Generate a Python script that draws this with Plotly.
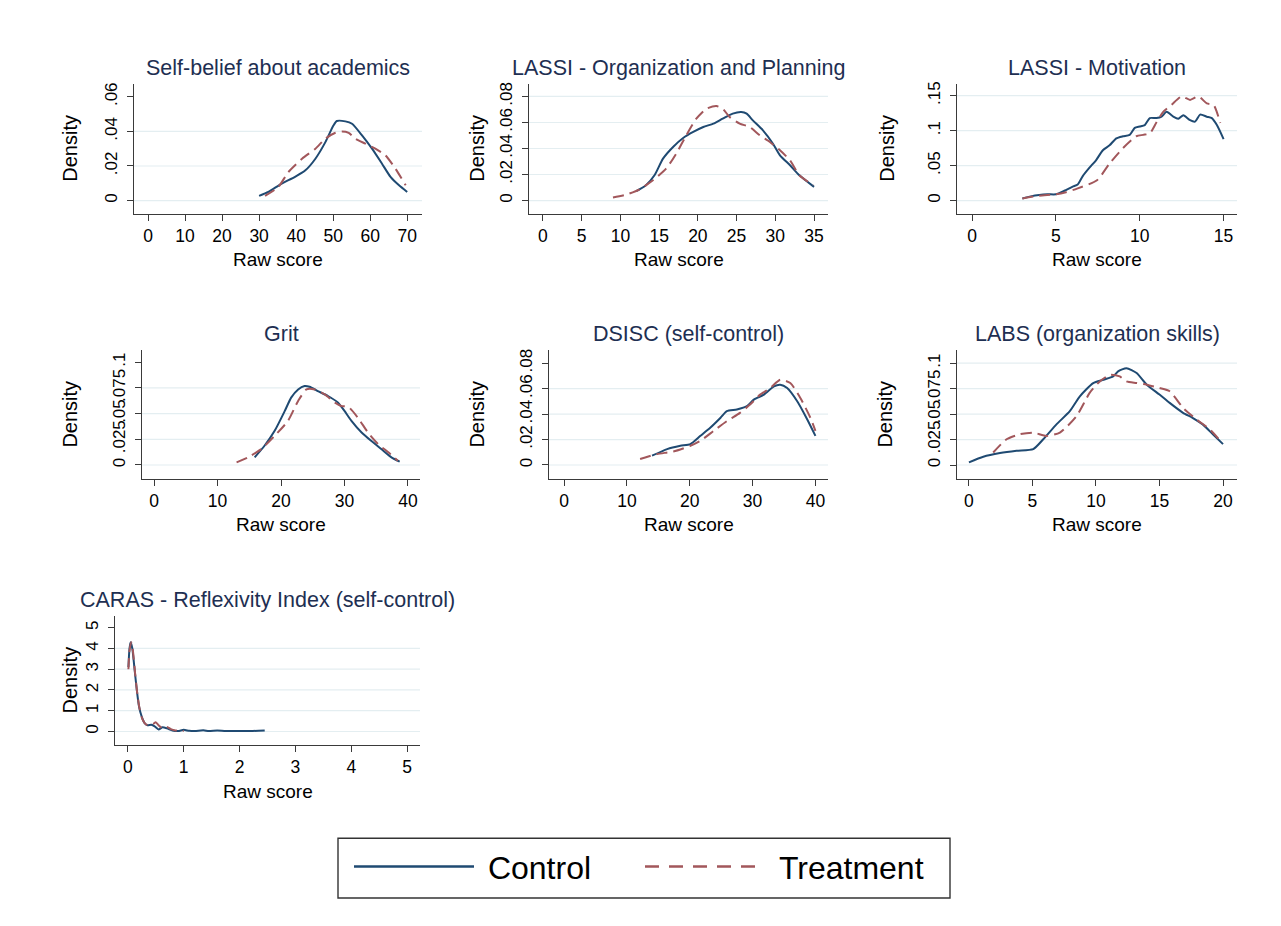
import plotly.graph_objects as go

W, H = 1281, 926
OFF = 8  # page body margin in the browser

# ---------------- data ----------------
titles = ["Self-belief about academics", "LASSI - Organization and Planning", "LASSI - Motivation",
          "Grit", "DSISC (self-control)", "LABS (organization skills)",
          "CARAS - Reflexivity Index (self-control)"]
series_names = ["Control", "Treatment"]
x_title = "Raw score"
y_title = "Density"

# 1 Self-belief about academics
sb_c_x = [30.0, 32.5, 36.1, 39.7, 42.5, 45.2, 47.9, 50.1, 51.0, 53.3, 55.1, 57.8, 60.5, 63.2, 65.5, 67.8, 70.0]
sb_c_y = [.0027, .0050, .0098, .0137, .0175, .0242, .0338, .0435, .0460, .0458, .0444, .0377, .0300, .0213, .0137, .0088, .0050]
sb_t_x = [31.6, 35.2, 37.9, 41.6, 45.2, 47.9, 50.6, 52.4, 54.2, 56.0, 58.7, 61.4, 64.1, 66.8, 69.6]
sb_t_y = [.0027, .0079, .0165, .0242, .0300, .0358, .0392, .0400, .0392, .0358, .0329, .0300, .0262, .0185, .0088]

# 2 LASSI - Organization and Planning
op_c_x = [12.05, 13.3, 14.4, 15.5, 16.8, 18.1, 19.4, 20.7, 22.0, 23.2, 24.5, 25.6, 26.3, 27.1, 28.4, 29.7, 30.6, 31.9, 33.1, 35.0]
op_c_y = [.0072, .0118, .0194, .0322, .0412, .0481, .0527, .0565, .0591, .0629, .0668, .0680, .0668, .0616, .0540, .0437, .0348, .0271, .0194, .0105]
op_t_x = [9.04, 10.8, 12.5, 14.2, 15.9, 17.2, 18.5, 19.8, 21.1, 22.4, 23.2, 24.1, 25.4, 26.7, 28.0, 29.3, 30.6, 31.9, 33.1, 34.9]
op_t_y = [.0023, .0046, .0087, .0156, .0245, .0360, .0501, .0629, .0706, .0726, .0706, .0642, .0591, .0565, .0501, .0450, .0386, .0309, .0194, .0118]

# 3 LASSI - Motivation
mo_c_x = [3.0, 3.5, 4.0, 4.5, 5.0, 5.5, 6.0, 6.3, 6.6, 7.0, 7.4, 7.8, 8.2, 8.6, 9.0, 9.4, 9.7, 10.0, 10.3, 10.6,
          11.0, 11.3, 11.6, 12.0, 12.3, 12.6, 13.0, 13.3, 13.6, 14.0, 14.3, 14.6, 15.0]
mo_c_y = [.003, .006, .008, .009, .009, .014, .020, .023, .035, .047, .058, .072, .079, .089, .092, .094, .104, .106, .108, .118,
          .118, .120, .127, .120, .117, .122, .115, .113, .123, .120, .118, .108, .088]
mo_t_x = [3.0, 4.0, 5.0, 5.6, 6.26, 7.45, 8.2, 9.0, 9.8, 10.2, 10.6, 11.0, 11.4, 11.9, 12.5, 13.0, 13.5, 14.0, 14.4, 14.8]
mo_t_y = [.003, .007, .009, .012, .017, .029, .053, .075, .092, .094, .096, .112, .127, .137, .149, .144, .149, .139, .137, .111]

# 4 Grit
gr_c_x = [15.85, 17.4, 19.0, 20.6, 21.6, 22.7, 23.7, 24.5, 25.8, 27.4, 29.0, 30.0, 31.1, 32.7, 34.2, 35.8, 37.4, 38.7]
gr_c_y = [.0074, .0187, .0332, .0526, .0655, .0735, .0768, .0761, .0719, .0671, .0606, .0526, .0429, .0316, .0235, .0155, .0074, .0032]
gr_t_x = [13.0, 14.8, 16.9, 19.0, 21.1, 22.7, 24.0, 25.3, 26.9, 28.5, 29.5, 30.6, 32.1, 33.7, 35.3, 36.9, 38.4]
gr_t_y = [.0026, .0074, .0155, .0284, .0429, .0623, .0735, .0735, .0687, .0606, .0574, .0565, .0461, .0316, .0203, .0123, .0042]

# 5 DSISC (self-control)
ds_c_x = [14.0, 16.4, 18.5, 20.1, 21.7, 23.3, 24.9, 25.9, 27.5, 29.1, 30.2, 31.8, 33.4, 34.4, 35.5, 37.1, 38.7, 40.0]
ds_c_y = [.0073, .0125, .0151, .0164, .0229, .0294, .0371, .0423, .0436, .0462, .0514, .0553, .0618, .0631, .0605, .0501, .0358, .0229]
ds_t_x = [12.1, 14.8, 17.4, 20.1, 21.7, 23.8, 25.9, 28.0, 29.6, 31.2, 32.8, 34.4, 36.0, 37.6, 39.2, 40.0]
ds_t_y = [.0047, .0086, .0106, .0151, .0190, .0268, .0345, .0410, .0475, .0553, .0605, .0670, .0644, .0527, .0371, .0268]

# 6 LABS (organization skills)
lb_c_x = [0.0, 1.13, 2.44, 3.75, 5.06, 5.85, 6.89, 7.94, 8.73, 9.78, 10.6, 11.35, 11.74, 12.4, 13.2, 14.0, 15.0, 15.8, 16.85, 17.6, 18.4, 19.2, 20.0]
lb_c_y = [.0026, .0081, .0117, .0140, .0156, .0253, .0399, .0529, .0675, .0805, .0838, .0870, .0919, .0951, .0903, .0789, .0692, .0610, .0513, .0464, .0399, .0302, .0205]
lb_t_x = [1.91, 2.96, 4.0, 5.06, 6.1, 7.16, 8.47, 9.5, 10.3, 11.1, 11.87, 12.4, 13.2, 14.0, 15.0, 15.8, 16.85, 17.9, 18.95, 19.9]
lb_t_y = [.0123, .0253, .0302, .0318, .0286, .0318, .0481, .0708, .0821, .0886, .0870, .0821, .0805, .0789, .0756, .0724, .0562, .0448, .0351, .0221]

# 7 CARAS - Reflexivity Index
ca_c_x = [0.01, 0.03, 0.05, 0.08, 0.12, 0.16, 0.20, 0.25, 0.30, 0.35, 0.42, 0.48, 0.55, 0.62, 0.70, 0.80, 0.90, 1.00,
          1.10, 1.20, 1.35, 1.45, 1.60, 1.75, 2.00, 2.20, 2.45]
ca_c_y = [3.1, 4.0, 4.3, 4.0, 3.0, 2.0, 1.2, 0.7, 0.4, 0.3, 0.32, 0.25, 0.10, 0.20, 0.15, 0.05, 0.02, 0.08,
          0.03, 0.02, 0.06, 0.02, 0.05, 0.02, 0.02, 0.02, 0.05]
ca_t_x = [0.01, 0.03, 0.06, 0.09, 0.13, 0.17, 0.21, 0.26, 0.32, 0.38, 0.45, 0.50, 0.55, 0.62, 0.70, 0.78, 0.85, 0.95, 1.00]
ca_t_y = [3.0, 3.9, 4.3, 3.9, 2.8, 1.8, 1.1, 0.6, 0.35, 0.30, 0.35, 0.45, 0.30, 0.15, 0.22, 0.10, 0.05, 0.03, 0.02]

control_x = [sb_c_x, op_c_x, mo_c_x, gr_c_x, ds_c_x, lb_c_x, ca_c_x]
control_y = [sb_c_y, op_c_y, mo_c_y, gr_c_y, ds_c_y, lb_c_y, ca_c_y]
treat_x = [sb_t_x, op_t_x, mo_t_x, gr_t_x, ds_t_x, lb_t_x, ca_t_x]
treat_y = [sb_t_y, op_t_y, mo_t_y, gr_t_y, ds_t_y, lb_t_y, ca_t_y]

# ticks
x_ticks = [[0, 10, 20, 30, 40, 50, 60, 70], [0, 5, 10, 15, 20, 25, 30, 35], [0, 5, 10, 15],
           [0, 10, 20, 30, 40], [0, 10, 20, 30, 40], [0, 5, 10, 15, 20], [0, 1, 2, 3, 4, 5]]
y_ticks = [[0, .02, .04, .06], [0, .02, .04, .06, .08], [0, .05, .1, .15],
           [0, .025, .05, .075, .1], [0, .02, .04, .06, .08], [0, .025, .05, .075, .1], [0, 1, 2, 3, 4, 5]]
y_ticktext = [["0", ".02", ".04", ".06"], ["0", ".02", ".04", ".06", ".08"], ["0", ".05", ".1", ".15"],
              ["0", ".025", ".05", ".075", ".1"], ["0", ".02", ".04", ".06", ".08"],
              ["0", ".025", ".05", ".075", ".1"], ["0", "1", "2", "3", "4", "5"]]
y_grid = [[0, .02, .04], [0, .02, .04, .06, .08], [0, .05, .1, .15],
          [0, .025, .05, .075], [0, .02, .04, .06], [0, .025, .05, .075, .1], [0, 1, 2, 3, 4]]

# ---------------- layout (screen pixel geometry) ----------------
boxes = [  # left, right, top, bottom (px)
    (134, 422, 82, 212), (529, 828, 82, 212), (957, 1237, 82, 212),
    (142, 420, 349, 478), (549, 828, 349, 478), (957, 1237, 349, 478),
    (115, 420, 615, 745),
]
x_ranges = [(-3.8, 74), (-1.8, 36.8), (-0.9, 15.8), (-1.9, 41.9), (-2.4, 42), (-0.94, 21.1), (-0.23, 5.23)]
y_ranges = [(-0.0075, 0.0675), (-0.01, 0.0897), (-0.0186, 0.167), (-0.0136, 0.1116),
            (-0.011, 0.0902), (-0.0137, 0.1127), (-0.67, 5.58)]
density_x = [70, 477, 887, 70, 477, 885, 70]
title_y = [66, 66, 66, 333, 333, 333, 599]

FONT = "Liberation Sans, Arial, Helvetica, sans-serif"
BLUE = "#1f4a72"
RED = "#a2575b"
AX = "#3a3a3a"
GRID = "#e4eef1"
TITLE_C = "#1e2f52"

FW, FH = W - 2 * OFF, H - 2 * OFF

def px(x):
    return (x - OFF) / FW

def py(y):
    return 1 - (y - OFF) / FH

fig = go.Figure()
layout = dict(
    width=FW, height=FH, margin=dict(l=0, r=0, t=0, b=0),
    paper_bgcolor="white", plot_bgcolor="white",
    font=dict(family=FONT, color="black", size=17),
    showlegend=True,
)
annotations = []
shapes = []

for i in range(7):
    n = i + 1
    xa = "x" if n == 1 else f"x{n}"
    ya = "y" if n == 1 else f"y{n}"
    l, r, t, b = boxes[i]
    fig.add_trace(go.Scatter(x=control_x[i], y=control_y[i], mode="lines", xaxis=xa, yaxis=ya,
                             line=dict(color=BLUE, width=2, shape="spline", smoothing=0.6),
                             name=series_names[0], showlegend=False, hoverinfo="skip"))
    fig.add_trace(go.Scatter(x=treat_x[i], y=treat_y[i], mode="lines", xaxis=xa, yaxis=ya,
                             line=dict(color=RED, width=2, dash="11px,6px", shape="spline", smoothing=0.6),
                             name=series_names[1], showlegend=False, hoverinfo="skip"))
    layout[f"xaxis{'' if n == 1 else n}"] = dict(
        domain=[px(l), px(r)], range=list(x_ranges[i]), anchor=ya,
        showline=True, linecolor=AX, linewidth=1.2, showgrid=False, zeroline=False,
        ticks="outside", ticklen=6, tickwidth=1.2, tickcolor=AX,
        tickmode="array", tickvals=x_ticks[i], ticktext=[str(v) for v in x_ticks[i]],
        tickfont=dict(size=17.5, family=FONT, color="black"), fixedrange=True,
    )
    layout[f"yaxis{'' if n == 1 else n}"] = dict(
        domain=[py(b), py(t)], range=list(y_ranges[i]), anchor=xa,
        showline=True, linecolor=AX, linewidth=1.2, showgrid=False, zeroline=False,
        ticks="outside", ticklen=6, tickwidth=1.2, tickcolor=AX,
        tickmode="array", tickvals=y_ticks[i], ticktext=y_ticktext[i], tickangle=-90,
        ticklabelstandoff=3,
        tickfont=dict(size=17, family=FONT, color="black"), fixedrange=True,
    )
    for g in y_grid[i]:
        shapes.append(dict(type="line", xref=f"{xa} domain", yref=ya, x0=0, x1=1, y0=g, y1=g,
                           line=dict(color=GRID, width=1.2), layer="below"))
    annotations.append(dict(text=titles[i], x=px((l + r) / 2), y=py(title_y[i]), xref="paper", yref="paper",
                            showarrow=False, xanchor="center", yanchor="middle",
                            font=dict(size=21.5, family=FONT, color=TITLE_C)))
    annotations.append(dict(text=x_title, x=px((l + r) / 2), y=py(b + 46), xref="paper", yref="paper",
                            showarrow=False, xanchor="center", yanchor="middle",
                            font=dict(size=19, family=FONT, color="black")))
    annotations.append(dict(text=y_title, x=px(density_x[i]), y=py((t + b) / 2), xref="paper", yref="paper",
                            showarrow=False, xanchor="center", yanchor="middle", textangle=-90,
                            font=dict(size=20, family=FONT, color="black")))

# legend frame
shapes.append(dict(type="rect", xref="paper", yref="paper", x0=px(338), x1=px(950), y0=py(898), y1=py(838),
                   line=dict(color="#333333", width=1.4), fillcolor="rgba(0,0,0,0)"))

# legend-only entries
fig.add_trace(go.Scatter(x=[None], y=[None], mode="lines", name="\u00a0" + series_names[0],
                         line=dict(color=BLUE, width=2.5)))
fig.add_trace(go.Scatter(x=[None], y=[None], mode="lines", name="\u00a0" + series_names[1],
                         line=dict(color=RED, width=2.5, dash="14px,10px")))

layout["legend"] = dict(
    orientation="h", x=px(349), xanchor="left", y=py(839), yanchor="top",
    borderwidth=0, bgcolor="rgba(0,0,0,0)",
    font=dict(size=32, family=FONT, color="black"), itemwidth=120,
    entrywidth=156, entrywidthmode="pixels", tracegroupgap=0,
)
layout["annotations"] = annotations
layout["shapes"] = shapes
fig.update_layout(**layout)

fig.write_html("out.html")
